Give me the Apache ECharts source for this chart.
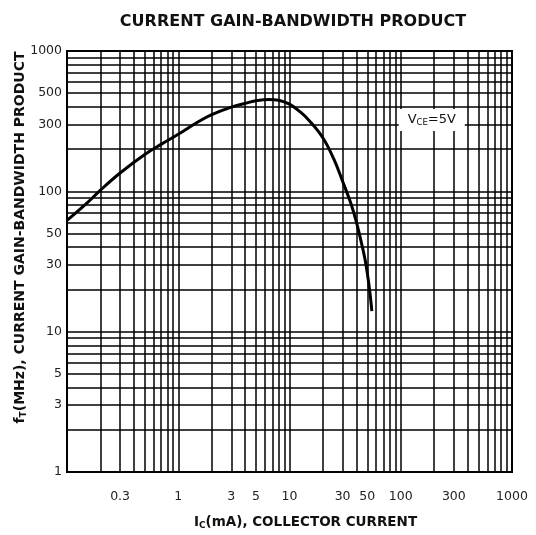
<!DOCTYPE html>
<html>
<head>
<meta charset="utf-8">
<script src="https://cdn.jsdelivr.net/npm/echarts@6/dist/echarts.min.js"></script>
<style>
html,body{margin:0;padding:0;background:#fff;}
#chart{width:536px;height:535px;}
</style>
</head>
<body>
<div id="chart"></div>
<script>
// ---- data ----
const collectorCurrent_mA = [0.1, 0.15, 0.2, 0.3, 0.5, 0.7, 1, 1.5, 2, 3, 4, 5, 6.5, 8, 10, 12.5, 15, 20, 25, 30, 36, 40, 44, 48, 52, 55];
const gainBandwidth_MHz   = [62, 82, 102, 135, 183, 216, 255, 312, 352, 398, 424, 442, 452, 446, 418, 368, 320, 240, 170, 118, 80, 60, 44, 32, 21, 14];
const xTickLabels = [0.3, 1, 3, 5, 10, 30, 50, 100, 300, 1000];
const yTickLabels = [1, 3, 5, 10, 30, 50, 100, 300, 500, 1000];
const xDecades = [0.1, 1, 10, 100];
const yDecades = [1, 10, 100];
const mantissas = [1, 2, 3, 4, 5, 6, 7, 8, 9];

const curve = collectorCurrent_mA.map((x, i) => [x, gainBandwidth_MHz[i]]);

const labelFont = { fontFamily: 'DejaVu Sans', fontSize: 12.5, color: '#222' };

function near(a, b){ return Math.abs(a - b) < 1e-9 * Math.max(1, b); }

const vLines = [];
xDecades.forEach(d => mantissas.forEach(m => {
  const v = +(m * d).toPrecision(3);
  const item = { xAxis: v };
  if (xTickLabels.some(t => near(t, v))) {
    item.label = Object.assign({ show: true, position: 'start', formatter: String(v), distance: 18 }, labelFont);
  }
  vLines.push(item);
}));
vLines.push({ xAxis: 1000, label: Object.assign({ show: true, position: 'start', formatter: '1000', distance: 18 }, labelFont) });

const hLines = [];
yDecades.forEach(d => mantissas.forEach(m => {
  const v = m * d;
  const item = { yAxis: v };
  if (yTickLabels.includes(v)) {
    item.label = Object.assign({ show: true, position: 'start', formatter: String(v), distance: 5 }, labelFont);
  }
  hLines.push(item);
}));
hLines.push({ yAxis: 1000, label: Object.assign({ show: true, position: 'start', formatter: '1000', distance: 5 }, labelFont) });

const chart = echarts.init(document.getElementById('chart'), null, { renderer: 'canvas' });
chart.setOption({
  backgroundColor: '#fff',
  animation: false,
  title: {
    text: 'CURRENT GAIN-BANDWIDTH PRODUCT',
    left: 288, top: 9, textAlign: 'center',
    textStyle: { fontFamily: 'DejaVu Sans', fontWeight: 'bold', fontSize: 16, color: '#111' }
  },
  grid: { left: 67, right: 24, top: 51, bottom: 57, show: true, borderColor: '#000', borderWidth: 2, backgroundColor: 'transparent' },
  xAxis: {
    type: 'log', logBase: 10, min: 0.1, max: 1000,
    axisLine: { show: true, lineStyle: { color: '#000', width: 2 } },
    axisTick: { show: false },
    axisLabel: { show: false },
    splitLine: { show: false },
    name: '{b|I}{s|C}{b|(mA), COLLECTOR CURRENT}',
    nameLocation: 'middle', nameGap: 43,
    nameTextStyle: {
      padding: [0, 0, 0, 32],
      rich: {
        b: { fontFamily: 'DejaVu Sans', fontWeight: 'bold', fontSize: 13.5, color: '#111' },
        s: { fontFamily: 'DejaVu Sans', fontWeight: 'bold', fontSize: 9, color: '#111', padding: [6, 0, 0, 0] }
      }
    }
  },
  yAxis: {
    type: 'log', logBase: 10, min: 1, max: 1000,
    axisLine: { show: true, lineStyle: { color: '#000', width: 2 } },
    axisTick: { show: false },
    axisLabel: { show: false },
    splitLine: { show: false },
    name: '{b|f}{s|T}{b|(MHz), CURRENT GAIN-BANDWIDTH PRODUCT}',
    nameLocation: 'middle', nameGap: 39, nameRotate: 90,
    nameTextStyle: {
      padding: [0, 0, 0, 48],
      rich: {
        b: { fontFamily: 'DejaVu Sans', fontWeight: 'bold', fontSize: 14, color: '#111' },
        s: { fontFamily: 'DejaVu Sans', fontWeight: 'bold', fontSize: 9, color: '#111', padding: [6, 0, 0, 0] }
      }
    }
  },
  series: [
    {
      type: 'line', data: [], silent: true, z: 1,
      markLine: {
        silent: true, symbol: ['none', 'none'], animation: false,
        label: { show: false },
        lineStyle: { color: '#000', width: 1.5, type: 'solid', opacity: 1 },
        emphasis: { disabled: true },
        data: vLines.concat(hLines)
      }
    },
    {
      type: 'line', data: curve, smooth: 0.4, showSymbol: false, symbol: 'none', z: 5,
      lineStyle: { color: '#000', width: 3 },
      markPoint: {
        symbol: 'rect', symbolSize: [66, 22], silent: true,
        itemStyle: { color: '#fff' },
        label: {
          show: true, position: 'inside',
          formatter: '{a|V}{s|CE}{a|=5V}',
          rich: {
            a: { fontFamily: 'DejaVu Sans', fontSize: 13, color: '#111' },
            s: { fontFamily: 'DejaVu Sans', fontSize: 8.5, color: '#111', padding: [5, 0, 0, 0] }
          }
        },
        data: [{ coord: [190, 322] }]
      }
    }
  ]
});
</script>
</body>
</html>
